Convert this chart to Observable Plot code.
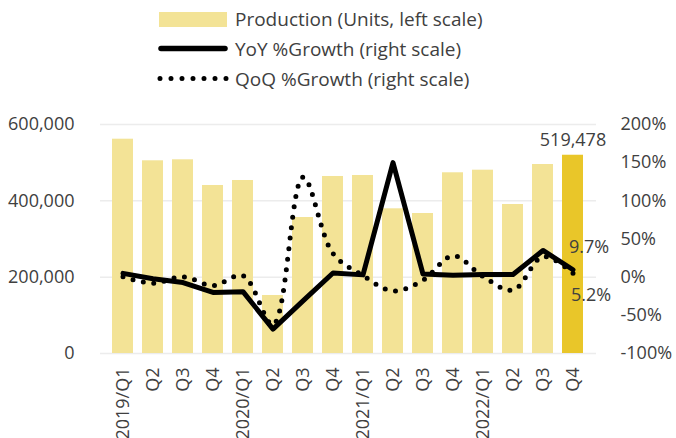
<!DOCTYPE html>
<html>
<head>
<meta charset="utf-8">
<script src="https://cdn.jsdelivr.net/npm/d3@7"></script>
<script src="https://cdn.jsdelivr.net/npm/@observablehq/plot@0.6"></script>
<style>
  html, body { margin: 0; padding: 0; background: white; }
  #wrap { width: 676px; height: 438px; position: relative; overflow: hidden; font-family: 'Open Sans', sans-serif; color: #404040; }
  #legend { position: relative; width: 676px; height: 100px; }
  .lg-text { position: absolute; left: 235px; font-size: 19px; line-height: 24px; white-space: nowrap; }
  #chart { position: absolute; left: 0; top: 100px; }
</style>
</head>
<body>
<div id="wrap">
  <div id="legend">
    <div style="position:absolute;left:159px;top:12px;width:68px;height:15px;background:#F3E396"></div>
    <svg style="position:absolute;left:0;top:0" width="240" height="100">
      <line x1="161" x2="225" y1="48.5" y2="48.5" stroke="black" stroke-width="5.5" stroke-linecap="round"/>
      <line x1="160" x2="228" y1="78.5" y2="78.5" stroke="black" stroke-width="5" stroke-linecap="round" stroke-dasharray="0 11"/>
    </svg>
    <div class="lg-text" style="top:7px">Production (Units, left scale)</div>
    <div class="lg-text" style="top:37px">YoY %Growth (right scale)</div>
    <div class="lg-text" style="top:67px">QoQ %Growth (right scale)</div>
  </div>
  <div id="chart"></div>
</div>
<script>
const quarters = ["2019Q1","2019Q2","2019Q3","2019Q4","2020Q1","2020Q2","2020Q3","2020Q4","2021Q1","2021Q2","2021Q3","2021Q4","2022Q1","2022Q2","2022Q3","2022Q4"];
const tickLabels = ["2019/Q1","Q2","Q3","Q4","2020/Q1","Q2","Q3","Q4","2021/Q1","Q2","Q3","Q4","2022/Q1","Q2","Q3","Q4"];
const production = [561500, 504900, 507500, 440200, 453300, 152000, 356300, 463800, 466400, 379100, 366800, 473500, 480300, 390400, 495200, 519478];
const yoyGrowth = [5, -2, -7, -20, -19, -68, -31, 5.5, 3, 150, 4, 2.5, 3.5, 3.5, 35, 9.7];
const qoqGrowth = [0.5, -8, 0.5, -11, 2, -62, 131, 31, 2, -18, -4, 28, 1, -17, 27, 5.2];
const leftTicks = [0, 200000, 400000, 600000];
const rightTicks = [-100, -50, 0, 50, 100, 150, 200];

const pctToY = p => (p + 100) * 2000; // right scale -100%..200% mapped onto 0..600,000
const labelOf = new Map(quarters.map((q, i) => [q, tickLabels[i]]));
const data = quarters.map((q, i) => ({q, v: production[i], yoy: yoyGrowth[i], qoq: qoqGrowth[i], last: i === quarters.length - 1}));
const lastRow = data[data.length - 1];

const chart = Plot.plot({
  width: 676,
  height: 338,
  marginTop: 24,
  marginBottom: 85,
  marginLeft: 100,
  marginRight: 80,
  style: {fontFamily: "'Open Sans', sans-serif", fontSize: "18px", color: "#404040", background: "white", overflow: "visible"},
  x: {domain: quarters, padding: 0.29, tickFormat: d => labelOf.get(d), tickRotate: -90, tickSize: 0, tickPadding: 14, label: null},
  y: {domain: [0, 600000], ticks: leftTicks, tickFormat: d3.format(","), tickSize: 0, tickPadding: 26, label: null},
  marks: [
    Plot.ruleY(leftTicks, {stroke: "#ececec", strokeWidth: 1.5}),
    Plot.barY(data, {x: "q", y: "v", fill: d => d.last ? "#E9C629" : "#F3E396"}),
    Plot.line(data, {x: "q", y: d => pctToY(d.qoq), stroke: "black", strokeWidth: 5, strokeLinecap: "round", strokeDasharray: "0 10.5", curve: "catmull-rom"}),
    Plot.line(data, {x: "q", y: d => pctToY(d.yoy), stroke: "black", strokeWidth: 5, strokeLinejoin: "round"}),
    Plot.text(rightTicks, {y: d => pctToY(d), text: d => d + "%", frameAnchor: "right", textAnchor: "start", dx: 24, fill: "#404040"}),
    Plot.text([lastRow], {x: "q", y: "v", text: d => d3.format(",")(d.v), lineAnchor: "bottom", dy: -9, fill: "#404040"}),
    Plot.text([lastRow], {x: "q", y: d => pctToY(d.yoy), text: d => d.yoy + "%", textAnchor: "start", dx: -4, dy: -23, fill: "#404040"}),
    Plot.text([lastRow], {x: "q", y: d => pctToY(d.qoq), text: d => d.qoq + "%", textAnchor: "start", dx: -2, dy: 22, fill: "#404040"})
  ]
});
document.getElementById("chart").appendChild(chart);
</script>
</body>
</html>
